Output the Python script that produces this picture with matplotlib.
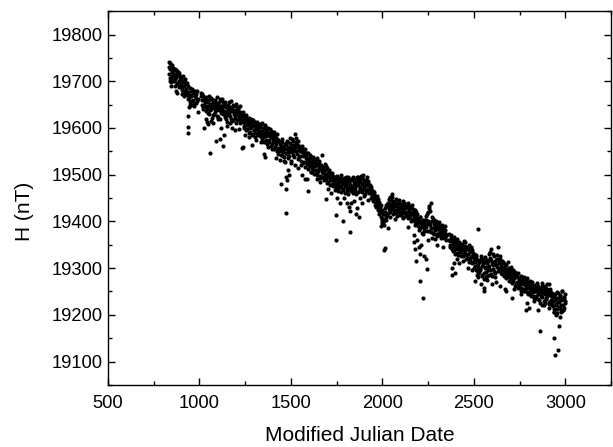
"""H component versus Modified Julian Date scatter."""
import matplotlib
matplotlib.use("Agg")
import matplotlib.pyplot as plt
import numpy as np
from matplotlib.ticker import MultipleLocator

nan = np.nan

# readings every 4 days from MJD 832 to 3000 (NaN = no data)
mjd = np.arange(832, 3001, 4)
h_main = [
    19742, 19716, 19727, 19706, 19735, 19712, 19722, 19700, 19726, 19704, 19716, 19721, 19695, 19713, 19718, 19690, 19708, 19703, 19686, 19711, 19680, 19699, 19704, 19676, 19695,
    19678, 19662, 19690, 19671, 19655, 19680, 19668, 19684, 19660, 19675, 19652, 19679, 19665, 19672, 19658, nan, nan, nan, nan, 19668, 19650, 19672, 19641, 19664, 19655,
    19648, 19666, 19640, 19655, 19632, 19660, 19646, 19638, 19662, 19650, 19628, 19656, 19643, 19659, 19635, 19651, 19645, 19624, 19654, 19639, 19661, 19633, 19648, 19640, 19656,
    19636, 19652, 19628, 19645, 19620, 19648, 19640, 19632, 19655, 19626, 19643, 19637, 19614, 19646, 19630, 19638, 19622, 19647, 19629, 19618, 19640, 19624, 19635, 19611, 19628,
    19630, 19612, 19625, 19604, 19620, 19615, 19628, 19598, 19613, 19606, 19622, 19592, 19610, 19601, 19616, 19588, 19607, 19595, 19612, 19590, 19604, 19598, 19585, 19609, 19593,
    19602, 19586, 19611, 19594, 19580, 19598, 19590, 19606, 19575, 19592, 19585, 19599, 19570, 19588, 19582, 19594, 19566, 19584, 19577, 19591, 19560, 19578, 19572, 19587, 19558,
    19574, 19550, 19566, 19558, 19543, 19570, 19548, 19562, 19538, 19556, 19565, 19545, 19572, 19552, 19560, 19541, 19568, 19557, 19549, 19576, 19554, 19563, 19587, 19551, 19569,
    19560, 19545, 19572, 19538, 19556, 19550, 19530, 19562, 19541, 19548, 19527, 19555, 19535, 19544, 19522, 19546, 19531, 19518, 19540, 19528, 19536, 19515, 19532, 19524, 19510,
    19528, 19510, 19535, 19503, 19520, 19514, 19530, 19498, 19517, 19543, 19506, 19512, 19495, 19522, 19502, 19490, 19515, 19500, 19484, 19508, 19496, 19488, 19502, 19480, 19494,
    19498, 19478, 19488, 19472, 19494, 19483, 19470, 19490, 19476, 19485, 19500, 19473, 19489, 19468, 19482, 19492, 19475, 19486, 19466, 19480, 19495, 19471, 19484, 19477, 19465,
    19488, 19470, 19492, 19476, 19465, 19484, 19478, 19495, 19462, 19481, 19490, 19472, 19486, 19468, 19493, 19479, 19500, 19474, 19483, 19466, 19489, 19477, 19470, 19486, 19462,
    19478, 19460, 19470, 19455, 19466, 19448, 19462, 19452, 19440, 19455, 19436, 19447, 19430, 19442, 19420, 19434, 19405, 19425, 19398, 19415, 19402, 19428, 19410, 19432, 19418,
    19440, 19426, 19452, 19432, 19445, 19459, 19430, 19441, 19422, 19436, 19448, 19418, 19433, 19427, 19442, 19420, 19438, 19430, 19415, 19434, 19425, 19440, 19418, 19428, 19412,
    19430, 19416, 19440, 19422, 19410, 19428, 19418, 19436, 19405, 19420, 19412, 19398, 19425, 19408, 19415, 19390, 19406, 19400, 19385, 19410, 19396, 19376, 19404, 19392, 19380,
    19402, 19388, 19412, 19395, 19420, 19380, 19432, 19398, 19439, 19386, 19410, 19375, 19394, 19402, 19381, 19396, 19372, 19390, 19384, 19398, 19370, 19388, 19378, 19393, 19366,
    19386, 19372, 19390, 19375, 19368, nan, nan, nan, 19372, 19358, 19346, 19365, 19340, 19352, 19362, 19338, 19355, 19344, 19360, 19332, 19350, 19341, 19356, 19335, 19348,
    19338, 19352, 19330, 19346, 19336, 19355, 19328, 19344, 19340, 19322, 19350, 19334, 19318, 19345, 19326, 19338, 19312, 19330, 19320, 19305, 19328, 19296, 19318, 19308, 19292,
    19315, 19298, 19326, 19285, 19308, 19320, 19290, 19312, 19280, 19302, 19318, 19295, 19330, 19305, 19322, 19288, 19340, 19310, 19298, 19325, 19312, 19290, 19318, 19302, 19328,
    19346, 19310, 19296, 19320, 19304, 19288, 19315, 19300, 19292, 19308, 19284, 19298, 19290, 19312, 19280, 19294, 19286, 19302, 19276, 19290, 19296, 19272, 19286, 19280, 19266,
    19282, 19268, 19290, 19262, 19276, 19270, 19284, 19258, 19272, 19266, 19280, 19252, 19270, 19262, 19278, 19248, 19265, 19258, 19272, 19244, 19262, 19254, 19270, 19240, 19258,
    19250, 19264, 19236, 19255, 19244, 19262, 19232, 19250, 19258, 19240, 19268, 19246, 19254, 19230, 19262, 19248, 19236, 19256, 19242, 19266, 19228, 19250, 19240, 19226, 19246,
    19218, 19240, 19206, 19232, 19224, 19248, 19212, 19236, 19228, 19215, 19242, 19222, 19234, 19250, 19210, 19238, 19225, 19244,
]

# the in-between days, MJD 834 to 2998
mjd_mid = np.arange(834, 2999, 4)
h_mid = [
    19730, 19708, 19738, 19698, 19720, 19728, 19702, 19714, 19690, 19725, 19710, 19696, 19720, 19700, 19688, 19712, 19694, 19706, 19682, 19700, 19690, 19672, 19698, 19684, 19670,
    19696, 19676, 19664, 19686, 19650, 19670, 19682, 19658, 19678, 19648, 19668, 19676, 19654, 19680, 19662, nan, nan, nan, nan, 19675, 19660, 19644, 19668, 19650, 19662,
    19662, 19636, 19658, 19646, 19668, 19630, 19652, 19664, 19640, 19622, 19660, 19648, 19630, 19656, 19638, 19666, 19626, 19650, 19640, 19658, 19620, 19646, 19634, 19662, 19630,
    19648, 19624, 19656, 19634, 19612, 19650, 19628, 19644, 19636, 19658, 19620, 19640, 19650, 19616, 19636, 19626, 19652, 19610, 19634, 19642, 19620, 19630, 19646, 19614, 19624,
    19618, 19634, 19600, 19626, 19610, 19596, 19622, 19606, 19618, 19590, 19614, 19600, 19620, 19584, 19604, 19616, 19596, 19610, 19580, 19602, 19612, 19588, 19598, 19606, 19582,
    19592, 19608, 19576, 19600, 19588, 19570, 19604, 19582, 19596, 19566, 19590, 19574, 19584, 19598, 19562, 19580, 19592, 19570, 19586, 19556, 19582, 19566, 19576, 19550, 19572,
    19556, 19570, 19532, 19562, 19550, 19576, 19540, 19558, 19528, 19566, 19546, 19570, 19536, 19560, 19548, 19578, 19530, 19556, 19564, 19542, 19572, 19538, 19560, 19550, 19578,
    19566, 19534, 19552, 19562, 19540, 19520, 19548, 19558, 19526, 19542, 19550, 19516, 19538, 19530, 19546, 19512, 19534, 19524, 19542, 19506, 19528, 19520, 19538, 19502, 19520,
    19518, 19534, 19500, 19524, 19508, 19526, 19492, 19512, 19520, 19496, 19516, 19504, 19488, 19510, 19498, 19518, 19482, 19504, 19494, 19510, 19478, 19498, 19488, 19504, 19476,
    19486, 19496, 19468, 19482, 19478, 19498, 19464, 19484, 19474, 19492, 19462, 19480, 19490, 19470, 19486, 19460, 19478, 19496, 19472, 19488, 19458, 19482, 19474, 19490, 19468,
    19476, 19494, 19460, 19482, 19472, 19488, 19458, 19478, 19496, 19466, 19484, 19474, 19498, 19462, 19480, 19490, 19470, 19486, 19458, 19478, 19494, 19468, 19482, 19460, 19476,
    19466, 19474, 19450, 19462, 19444, 19458, 19436, 19450, 19430, 19446, 19424, 19440, 19416, 19430, 19410, 19422, 19396, 19416, 19406, 19392, 19420, 19404, 19436, 19414, 19440,
    19430, 19448, 19420, 19438, 19426, 19452, 19416, 19436, 19444, 19424, 19432, 19412, 19440, 19422, 19446, 19428, 19414, 19436, 19422, 19444, 19410, 19430, 19420, 19438, 19416,
    19420, 19434, 19408, 19426, 19414, 19432, 19400, 19418, 19426, 19402, 19414, 19392, 19410, 19420, 19396, 19404, 19382, 19398, 19410, 19388, 19400, 19392, 19374, 19396, 19386,
    19392, 19404, 19380, 19416, 19400, 19428, 19392, 19422, 19378, 19400, 19386, 19406, 19374, 19392, 19386, 19400, 19368, 19384, 19394, 19376, 19390, 19364, 19382, 19372, 19388,
    19378, 19364, 19382, 19370, 19360, nan, nan, nan, 19360, 19350, 19370, 19342, 19358, 19336, 19366, 19348, 19330, 19352, 19340, 19362, 19328, 19346, 19336, 19352, 19326,
    19346, 19326, 19342, 19358, 19332, 19348, 19320, 19340, 19330, 19346, 19314, 19336, 19324, 19342, 19310, 19332, 19300, 19322, 19314, 19296, 19324, 19304, 19290, 19314, 19300,
    19296, 19320, 19282, 19304, 19314, 19276, 19300, 19324, 19292, 19310, 19284, 19316, 19298, 19334, 19296, 19318, 19284, 19306, 19330, 19294, 19312, 19280, 19306, 19320, 19294,
    19318, 19298, 19326, 19290, 19308, 19296, 19312, 19284, 19302, 19294, 19306, 19278, 19296, 19288, 19300, 19272, 19292, 19282, 19296, 19268, 19286, 19278, 19292, 19262, 19282,
    19270, 19284, 19258, 19278, 19266, 19274, 19252, 19268, 19276, 19256, 19266, 19250, 19274, 19258, 19266, 19244, 19260, 19270, 19250, 19256, 19240, 19264, 19248, 19258, 19236,
    19258, 19240, 19252, 19268, 19234, 19246, 19256, 19226, 19248, 19262, 19238, 19252, 19222, 19244, 19258, 19234, 19266, 19240, 19250, 19224, 19244, 19256, 19232, 19220, 19238,
    19230, 19212, 19244, 19220, 19236, 19204, 19228, 19246, 19216, 19240, 19208, 19232, 19252, 19220, 19236, 19214, 19230,
]

# disturbed days that fall below the main band
mjd_low = [838, 845, 870, 880, 905, 915, 938, 940, 940, 945, 955, 990, 1025, 1035, 1040, 1045, 1059, 1065,
           1075, 1090, 1100, 1110, 1120, 1128, 1132, 1150, 1165, 1180, 1195, 1215, 1232, 1236, 1250, 1270,
           1290, 1310, 1335, 1355, 1358, 1375, 1395, 1416, 1430, 1445, 1460, 1474, 1476, 1474, 1473, 1482,
           1490, 1500, 1520, 1540, 1560, 1575, 1589, 1592, 1610, 1640, 1660, 1690, 1705, 1720, 1744, 1746,
           1750, 1770, 1782, 1790, 1805, 1815, 1821, 1825, 1830, 1845, 1855, 1860, 1870, 1880, 1890, 1900,
           1920, 1940, 1995, 2000, 2005, 2010, 2014, 2030, 2040, 2070, 2110, 2138, 2170, 2175, 2180, 2185,
           2190, 2200, 2206, 2208, 2212, 2220, 2230, 2240, 2244, 2250, 2270, 2290, 2300, 2330, 2380, 2382,
           2390, 2395, 2410, 2418, 2440, 2470, 2490, 2505, 2515, 2520, 2525, 2540, 2553, 2556, 2570, 2585,
           2600, 2620, 2640, 2669, 2675, 2708, 2720, 2760, 2784, 2790, 2800, 2830, 2850, 2862, 2870, 2890,
           2910, 2935, 2939, 2943, 2950, 2962, 2965, 2968, 2975, 2985]
h_low = [19700, 19690, 19680, 19675, 19672, 19668, 19625, 19602, 19589, 19645, 19650, 19634, 19600, 19620, 19613, 19608, 19546, 19615,
         19610, 19572, 19620, 19577, 19600, 19562, 19584, 19605, 19610, 19600, 19595, 19598, 19557, 19560, 19585, 19580,
         19563, 19575, 19570, 19545, 19537, 19560, 19555, 19535, 19545, 19480, 19530, 19495, 19488, 19469, 19419, 19510,
         19500, 19525, 19520, 19515, 19500, 19490, 19491, 19465, 19505, 19490, 19485, 19447, 19470, 19460, 19414, 19361,
         19450, 19440, 19400, 19450, 19440, 19430, 19378, 19422, 19440, 19443, 19415, 19428, 19410, 19450, 19440, 19455,
         19445, 19450, 19390, 19400, 19395, 19338, 19342, 19385, 19410, 19405, 19408, 19387, 19370, 19355, 19340, 19316,
         19360, 19345, 19330, 19272, 19350, 19237, 19325, 19320, 19297, 19360, 19365, 19363, 19350, 19345, 19300, 19285,
         19310, 19290, 19320, 19310, 19315, 19300, 19295, 19272, 19285, 19280, 19384, 19265, 19258, 19250, 19275, 19285,
         19265, 19270, 19262, 19255, 19250, 19237, 19255, 19245, 19211, 19225, 19215, 19230, 19210, 19166, 19222, 19225,
         19215, 19205, 19150, 19115, 19200, 19124, 19177, 19195, 19205, 19210]

plt.rcParams["font.family"] = ["Liberation Sans", "DejaVu Sans"]

fig = plt.figure(figsize=(6.13, 4.47), dpi=100)
ax = fig.add_axes([0.176, 0.139, 0.821, 0.836])

for xs, ys in [(mjd, h_main), (mjd_mid, h_mid), (mjd_low, h_low)]:
    ax.plot(xs, ys, "o", color="black", ms=3.0, mew=0)

ax.set_xlim(500, 3250)
ax.set_ylim(19050, 19850)
ax.xaxis.set_major_locator(MultipleLocator(500))
ax.xaxis.set_minor_locator(MultipleLocator(250))
ax.yaxis.set_major_locator(MultipleLocator(100))
ax.yaxis.set_minor_locator(MultipleLocator(50))
ax.tick_params(which="both", direction="in", top=True, right=True, labelsize=13.2, width=1)
ax.tick_params(which="major", length=5)
ax.tick_params(which="minor", length=3)
ax.tick_params(axis="x", pad=7)
ax.tick_params(axis="y", pad=4)
for spine in ax.spines.values():
    spine.set_linewidth(1)

ax.set_xlabel("Modified Julian Date", fontsize=15, va="center")
ax.xaxis.set_label_coords(0.5, -0.136)
ax.set_ylabel("H (nT)", fontsize=15, va="center")
ax.yaxis.set_label_coords(-0.165, 0.463)

fig.savefig("out.png", dpi=100, facecolor="white")
